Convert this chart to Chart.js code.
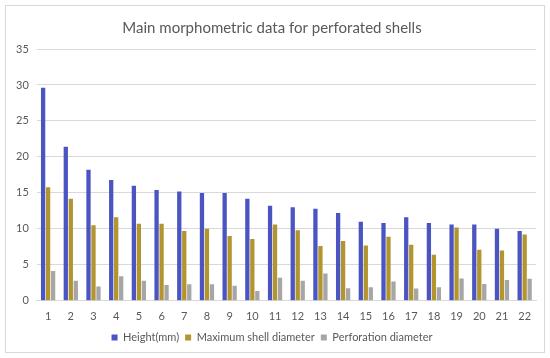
<!DOCTYPE html>
<html>
<head>
<meta charset="utf-8">
<script src="https://cdn.jsdelivr.net/npm/chart.js@4"></script>
<style>
  html, body { margin: 0; padding: 0; background: #fff; }
  #wrap { position: relative; width: 550px; height: 358px; }
</style>
</head>
<body>
<div id="wrap"><canvas id="shellChart"></canvas></div>
<script>
// shell numbers 1..22
const shells = ['1','2','3','4','5','6','7','8','9','10','11','12','13','14','15','16','17','18','19','20','21','22'];

// values (mm)
const heightMm = [29.6, 21.4, 18.2, 16.8, 16.0, 15.4, 15.2, 15.0, 15.0, 14.2, 13.2, 13.0, 12.8, 12.2, 11.0, 10.8, 11.6, 10.8, 10.6, 10.6, 10.0, 9.7];
const maxDiameter = [15.8, 14.2, 10.5, 11.6, 10.7, 10.7, 9.7, 10.0, 9.0, 8.6, 10.6, 9.8, 7.6, 8.3, 7.7, 8.9, 7.8, 6.4, 10.2, 7.1, 7.0, 9.2];
const perfDiameter = [4.15, 2.8, 2.0, 3.4, 2.8, 2.2, 2.3, 2.3, 2.1, 1.35, 3.2, 2.8, 3.8, 1.75, 1.9, 2.7, 1.7, 1.9, 3.1, 2.35, 2.9, 3.05];

const yTicks = [0, 5, 10, 15, 20, 25, 30, 35];

// light frame around the whole chart
const framePlugin = {
    id: 'frame',
    beforeDraw(chart) {
        const ctx = chart.ctx;
        ctx.save();
        ctx.fillStyle = '#ffffff';
        ctx.fillRect(0, 0, chart.width, chart.height);
        ctx.strokeStyle = '#d9d9d9';
        ctx.lineWidth = 1;
        ctx.strokeRect(5.5, 5.5, chart.width - 11, chart.height - 11);
        ctx.restore();
    }
};

const txt = '#595959';

const data = {
    labels: shells,
    datasets: [
        { label: 'Height(mm)', data: heightMm, backgroundColor: '#4b55c2' },
        { label: 'Maximum shell diameter', data: maxDiameter, backgroundColor: '#b39530' },
        { label: 'Perforation diameter', data: perfDiameter, backgroundColor: '#a6a6a6' }
    ]
};

const config = {
    type: 'bar',
    data: data,
    options: {
        responsive: true,
        maintainAspectRatio: false,
        animation: false,
        layout: { padding: { left: 8, right: 14, top: 12, bottom: 5 } },
        datasets: {
            bar: { categoryPercentage: 0.66, barPercentage: 0.86 }
        },
        plugins: {
            title: {
                display: true,
                text: 'Main morphometric data for perforated shells',
                color: txt,
                font: { family: 'Lato', size: 15, weight: 'normal' },
                padding: { top: 7, bottom: 12 }
            },
            legend: {
                position: 'bottom',
                labels: {
                    color: txt,
                    font: { family: 'Lato', size: 11 },
                    boxWidth: 6,
                    boxHeight: 6,
                    padding: 6
                }
            },
            tooltip: { enabled: false }
        },
        scales: {
            x: {
                afterFit: (axis) => { axis.height += 2; },
                grid: { display: false },
                border: { color: '#d9d9d9' },
                ticks: { color: txt, font: { family: 'Lato', size: 11 }, maxRotation: 0, autoSkip: false, padding: 1 }
            },
            y: {
                min: 0,
                max: 35,
                afterBuildTicks: (axis) => { axis.ticks = yTicks.map(v => ({ value: v })); },
                grid: { color: '#d9d9d9', drawTicks: false },
                border: { display: false },
                ticks: { color: txt, font: { family: 'Lato', size: 11 }, padding: 8 }
            }
        }
    },
    plugins: [framePlugin]
};

const myChart = new Chart(document.getElementById('shellChart'), config);
</script>
</body>
</html>
